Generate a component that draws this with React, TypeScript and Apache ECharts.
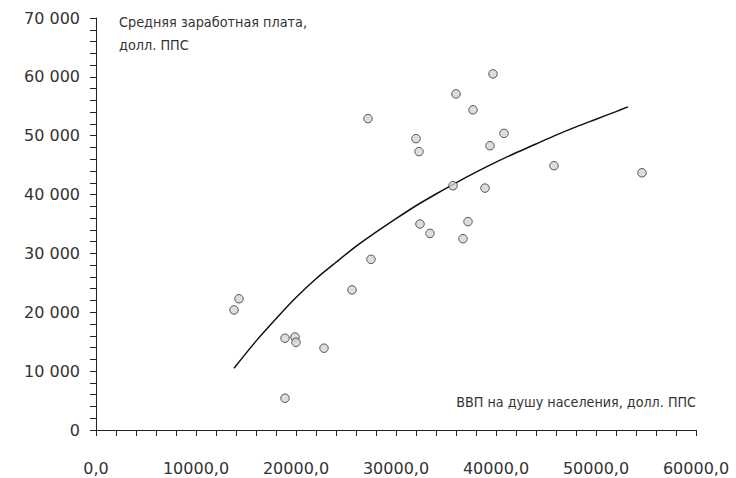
import React, { useEffect, useRef } from "react";
import * as echarts from "echarts";

// GDP per capita (USD PPP) vs average wage (USD PPP)
const gdpPerCapita = [
  13800, 14300, 18900, 19900, 20000, 22800, 18900, 25600, 27500, 27200,
  39700, 36000, 37700, 32000, 32300, 40800, 39400, 45800, 54600, 35700,
  38900, 32400, 37200, 33400, 36700,
];
const averageWage = [
  20400, 22300, 15600, 15800, 14900, 13900, 5400, 23800, 29000, 52900,
  60500, 57100, 54400, 49500, 47300, 50400, 48300, 44900, 43700, 41500,
  41100, 35000, 35400, 33400, 32500,
];

// Trend line
const trendX = [
  13800, 16000, 18000, 20000, 22000, 24000, 26000, 28000, 30000, 32000, 34000,
  36000, 38000, 40000, 42000, 44000, 46000, 48000, 50000, 52000, 53200,
];
const trendY = [
  10500, 15100, 18900, 22500, 25700, 28500, 31200, 33600, 35900, 38100, 40100,
  42000, 43800, 45500, 47100, 48600, 50100, 51500, 52800, 54100, 54900,
];

const yAxisTitle = ["Средняя заработная плата,", "долл. ППС"];
const xAxisTitle = "ВВП на душу населения, долл. ППС";

const NARROW = "'Liberation Sans Narrow', 'DejaVu Sans Condensed', sans-serif";
const LABEL_FONT = "'DejaVu Sans', sans-serif";

export default function App() {
  const ref = useRef<HTMLDivElement>(null);
  useEffect(() => {
    if (!ref.current) return;
    const chart = echarts.init(ref.current, undefined, { renderer: "svg" });
    const points = gdpPerCapita.map((x, i) => [x, averageWage[i]]);
    const trend = trendX.map((x, i) => [x, trendY[i]]);
    chart.setOption({
      animation: false,
      backgroundColor: "#ffffff",
      grid: { left: 96, right: 40, top: 18, bottom: 48, containLabel: false },
      xAxis: {
        type: "value",
        min: 0,
        max: 60000,
        interval: 10000,
        splitLine: { show: false },
        axisLine: { show: true, onZero: false, lineStyle: { color: "#222", width: 1 } },
        axisTick: { show: true, inside: false, length: 6, lineStyle: { color: "#222" } },
        minorTick: { show: true, splitNumber: 5, length: 6, lineStyle: { color: "#222" } },
        axisLabel: {
          margin: 30,
          fontSize: 16,
          fontFamily: LABEL_FONT,
          color: "#333",
          formatter: (v: number) => v.toFixed(1).replace(".", ","),
        },
      },
      yAxis: {
        type: "value",
        min: 0,
        max: 70000,
        interval: 10000,
        splitLine: { show: false },
        axisLine: { show: true, lineStyle: { color: "#222", width: 1 } },
        axisTick: { show: true, inside: false, length: 6, lineStyle: { color: "#222" } },
        minorTick: { show: true, splitNumber: 5, length: 6, lineStyle: { color: "#222" } },
        axisLabel: {
          margin: 16,
          fontSize: 16,
          fontFamily: LABEL_FONT,
          color: "#333",
          formatter: (v: number) => String(v).replace(/\B(?=(\d{3})+(?!\d))/g, " "),
        },
      },
      graphic: [
        {
          type: "text",
          left: 119,
          top: 10,
          style: {
            text: yAxisTitle.join("\n"),
            font: `14.3px ${NARROW}`,
            fill: "#333",
            lineHeight: 23,
          },
        },
        {
          type: "text",
          right: 40,
          top: 395,
          style: {
            text: xAxisTitle,
            font: `14.2px ${NARROW}`,
            fill: "#333",
          },
        },
      ],
      series: [
        {
          type: "line",
          data: trend,
          smooth: 0.3,
          showSymbol: false,
          lineStyle: { color: "#111", width: 1.5, join: "round" },
          z: 2,
        },
        {
          type: "scatter",
          data: points,
          symbol: "circle",
          symbolSize: 8.5,
          itemStyle: { color: "#d4d4d4", borderColor: "#333", borderWidth: 1 },
          z: 3,
        },
      ],
    });
    return () => chart.dispose();
  }, []);
  return <div ref={ref} style={{ width: 736, height: 478, position: "absolute", left: 0, top: 0 }} />;
}
